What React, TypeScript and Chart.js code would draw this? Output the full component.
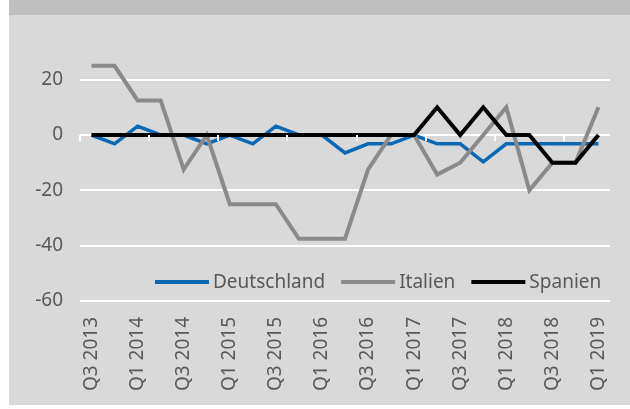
import React, { useEffect, useRef } from "react";
import { Chart, registerables } from "chart.js";

Chart.register(...registerables);

const quarters = [
  "Q3 2013", "Q4 2013", "Q1 2014", "Q2 2014", "Q3 2014", "Q4 2014",
  "Q1 2015", "Q2 2015", "Q3 2015", "Q4 2015", "Q1 2016", "Q2 2016",
  "Q3 2016", "Q4 2016", "Q1 2017", "Q2 2017", "Q3 2017", "Q4 2017",
  "Q1 2018", "Q2 2018", "Q3 2018", "Q4 2018", "Q1 2019",
];

const deutschland = [
  0, -3.2, 3.2, 0, 0, -3.2, 0, -3.2, 3.2, 0, 0, -6.5,
  -3.2, -3.2, 0, -3.2, -3.2, -9.7, -3.2, -3.2, -3.2, -3.2, -3.2,
];

const italien = [
  25, 25, 12.5, 12.5, -12.5, 0, -25, -25, -25, -37.5, -37.5, -37.5,
  -12.5, 0, 0, -14.3, -10, 0, 10, -20, -10, -10, 10,
];

const spanien = [
  0, 0, 0, 0, 0, 0, 0, 0, 0, 0, 0, 0,
  0, 0, 0, 10, 0, 10, 0, 0, -10, -10, 0,
];

const yTicks = [-60, -40, -20, 0, 20];

const FONT = "'Noto Sans', 'Open Sans', sans-serif";
const TEXT = "#595959";

const zeroTicksPlugin = {
  id: "zeroTicks",
  afterDatasetsDraw(chart: any) {
    const x = chart.scales.x;
    const y = chart.scales.y;
    const ctx = chart.ctx;
    const y0 = y.getPixelForValue(0);
    const step = x.getPixelForValue(1) - x.getPixelForValue(0);
    ctx.save();
    ctx.strokeStyle = "#FFFFFF";
    ctx.lineWidth = 2;
    for (let i = 0; i < quarters.length; i += 3) {
      const px = Math.round(x.getPixelForValue(i) - step / 2);
      ctx.beginPath();
      ctx.moveTo(px, y0);
      ctx.lineTo(px, y0 + 6);
      ctx.stroke();
    }
    ctx.restore();
  },
};

const legendPlugin = {
  id: "insideLegend",
  afterDraw(chart: any) {
    const ctx = chart.ctx;
    const area = chart.chartArea;
    const cy = area.bottom - 19;
    let x = 146;
    ctx.save();
    ctx.font = `19px ${FONT}`;
    ctx.textBaseline = "middle";
    ctx.textAlign = "left";
    chart.data.datasets.forEach((ds: any) => {
      ctx.strokeStyle = ds.borderColor;
      ctx.lineWidth = 4;
      ctx.beginPath();
      ctx.moveTo(x, cy);
      ctx.lineTo(x + 54, cy);
      ctx.stroke();
      x += 58;
      ctx.fillStyle = TEXT;
      ctx.fillText(ds.label, x, cy + 1);
      x += ctx.measureText(ds.label).width + 16;
    });
    ctx.restore();
  },
};

export default function App() {
  const ref = useRef<HTMLCanvasElement | null>(null);

  useEffect(() => {
    if (!ref.current) return;
    const chart = new Chart(ref.current, {
      type: "line",
      data: {
        labels: quarters,
        datasets: [
          {
            label: "Deutschland",
            data: deutschland,
            borderColor: "#0A68B4",
            borderWidth: 3.5,
            pointRadius: 0,
            tension: 0,
            order: 2,
          },
          {
            label: "Italien",
            data: italien,
            borderColor: "#8A8A8A",
            borderWidth: 4,
            pointRadius: 0,
            tension: 0,
            order: 1,
          },
          {
            label: "Spanien",
            data: spanien,
            borderColor: "#000000",
            borderWidth: 4,
            pointRadius: 0,
            tension: 0,
            order: 0,
          },
        ],
      },
      options: {
        animation: false,
        responsive: false,
        devicePixelRatio: 1,
        layout: { padding: { top: 37, right: 20, left: 0, bottom: 0 } },
        plugins: {
          legend: { display: false },
          tooltip: { enabled: false },
        },
        scales: {
          x: {
            offset: true,
            grid: { display: false },
            border: { display: false },
            ticks: {
              autoSkip: false,
              maxRotation: 90,
              minRotation: 90,
              padding: 8,
              color: TEXT,
              font: { family: FONT, size: 19 },
              callback: (_v: any, i: number) => (i % 2 === 0 ? quarters[i] : ""),
            },
            afterFit: (s: any) => {
              s.height = 104;
            },
          },
          y: {
            min: -60,
            max: 30,
            grid: { color: "#FFFFFF", lineWidth: 2, drawTicks: false },
            border: { display: false },
            ticks: {
              stepSize: 20,
              padding: 17,
              color: TEXT,
              font: { family: FONT, size: 19 },
            },
            afterBuildTicks: (s: any) => {
              s.ticks = yTicks.map((v) => ({ value: v }));
            },
            afterFit: (s: any) => {
              s.width = 71;
            },
          },
        },
      },
      plugins: [zeroTicksPlugin, legendPlugin],
    });
    return () => chart.destroy();
  }, []);

  return (
    <div
      style={{
        position: "absolute",
        left: 9,
        top: 0,
        width: 621,
        height: 405,
        background: "#D9D9D9",
        overflow: "hidden",
      }}
    >
      <div style={{ height: 15, background: "#BFBFBF" }} />
      <canvas ref={ref} width={621} height={390} style={{ display: "block" }} />
    </div>
  );
}
